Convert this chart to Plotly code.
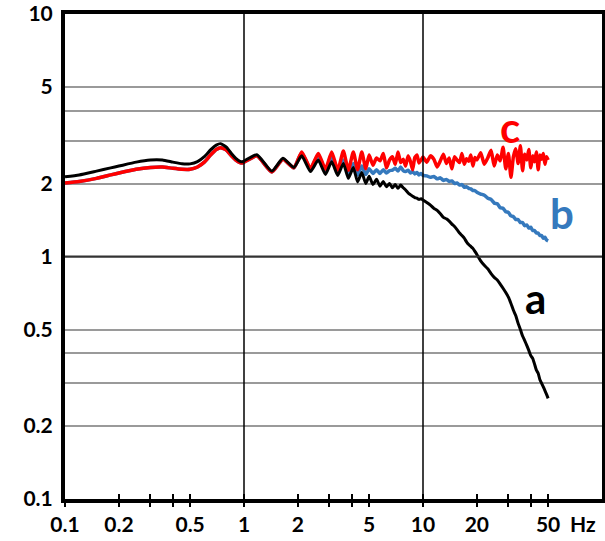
import plotly.graph_objects as go

# ---- data ----
freq = [0.1, 0.12, 0.15, 0.18, 0.2, 0.25, 0.3, 0.35, 0.4, 0.45, 0.5, 0.55, 0.6, 0.65, 0.7, 0.74, 0.8, 0.85, 0.9, 0.95, 0.98,
        1.18, 1.43, 1.65, 1.90, 2.10, 2.35, 2.60, 2.85, 3.09, 3.34, 3.59, 3.83, 4.08, 4.31, 4.55, 4.79,
        5.0, 5.25, 5.5, 5.75, 6.0, 6.25, 6.5, 6.75, 7.0, 7.25, 7.5, 7.75, 8.0, 8.25, 8.5, 8.75, 9.0, 9.25, 9.5, 9.75, 10.0,
        10.5, 11.0, 11.5, 12.0, 12.5, 13.0, 13.5, 14.0, 14.5, 15.0, 15.5, 16.0, 16.5, 17.0, 17.5, 18.0, 18.5, 19.0, 19.5, 20.0,
        21, 22, 23, 24, 25, 26, 27, 28, 29, 30, 31, 32, 33, 34, 35, 36, 37, 38, 39, 40,
        41, 42, 43, 44, 45, 46, 47, 48, 49, 50]

series_a = [2.13, 2.17, 2.25, 2.32, 2.36, 2.45, 2.50, 2.50, 2.45, 2.41, 2.41, 2.46, 2.58, 2.75, 2.88, 2.92, 2.82, 2.66, 2.54, 2.47, 2.46,
            2.63, 2.25, 2.54, 2.33, 2.60, 2.24, 2.50, 2.18, 2.46, 2.16, 2.42, 2.10, 2.33, 2.03, 2.22, 2.00,
            2.14, 1.98, 2.08, 1.95, 2.04, 1.94, 2.00, 1.92, 1.98, 1.91, 1.97, 1.92, 1.88, 1.83, 1.80, 1.77, 1.75, 1.74, 1.72, 1.73, 1.71,
            1.67, 1.63, 1.58, 1.55, 1.50, 1.45, 1.43, 1.40, 1.36, 1.33, 1.29, 1.25, 1.22, 1.19, 1.15, 1.12, 1.10, 1.08, 1.05, 1.02,
            0.96, 0.92, 0.89, 0.85, 0.82, 0.80, 0.77, 0.74, 0.71, 0.68, 0.64, 0.60, 0.57, 0.53, 0.50, 0.47, 0.45, 0.43, 0.41, 0.39,
            0.38, 0.36, 0.34, 0.33, 0.31, 0.30, 0.29, 0.28, 0.27, 0.26]

series_b = [2.01, 2.04, 2.10, 2.17, 2.21, 2.29, 2.33, 2.34, 2.31, 2.29, 2.29, 2.34, 2.45, 2.62, 2.76, 2.81, 2.74, 2.60, 2.50, 2.44, 2.43,
            2.60, 2.23, 2.52, 2.32, 2.68, 2.30, 2.62, 2.26, 2.58, 2.22, 2.50, 2.19, 2.42, 2.17, 2.36, 2.18,
            2.30, 2.20, 2.28, 2.20, 2.28, 2.21, 2.26, 2.27, 2.31, 2.25, 2.34, 2.26, 2.24, 2.27, 2.21, 2.24, 2.19, 2.22, 2.17, 2.20, 2.16,
            2.15, 2.12, 2.14, 2.09, 2.11, 2.06, 2.08, 2.04, 2.05, 2.00, 2.01, 1.97, 1.98, 1.93, 1.94, 1.91, 1.90, 1.87, 1.87, 1.84,
            1.81, 1.79, 1.74, 1.72, 1.66, 1.65, 1.59, 1.58, 1.53, 1.52, 1.47, 1.46, 1.42, 1.42, 1.38, 1.38, 1.34, 1.35, 1.31, 1.32,
            1.28, 1.28, 1.25, 1.25, 1.22, 1.22, 1.19, 1.20, 1.17, 1.16]

series_c = [2.01, 2.04, 2.10, 2.17, 2.21, 2.29, 2.33, 2.34, 2.31, 2.29, 2.29, 2.34, 2.45, 2.62, 2.76, 2.81, 2.74, 2.60, 2.50, 2.44, 2.43,
            2.60, 2.23, 2.52, 2.32, 2.70, 2.31, 2.66, 2.29, 2.70, 2.27, 2.72, 2.27, 2.70, 2.28, 2.70, 2.30,
            2.62, 2.38, 2.55, 2.48, 2.66, 2.32, 2.50, 2.58, 2.40, 2.70, 2.44, 2.52, 2.36, 2.60, 2.47, 2.28, 2.56, 2.62, 2.43, 2.50, 2.57,
            2.45, 2.60, 2.52, 2.34, 2.48, 2.64, 2.42, 2.55, 2.30, 2.58, 2.50, 2.44, 2.66, 2.40, 2.53, 2.47, 2.62, 2.36, 2.56, 2.50,
            2.68, 2.40, 2.55, 2.74, 2.36, 2.62, 2.48, 2.82, 2.30, 2.66, 2.12, 2.58, 2.78, 2.42, 2.86, 2.26, 2.64, 2.50, 2.76, 2.32,
            2.60, 2.46, 2.70, 2.28, 2.62, 2.52, 2.66, 2.40, 2.58, 2.50]

x_tick_vals = [0.1, 0.2, 0.3, 0.4, 0.5, 1, 2, 3, 4, 5, 10, 20, 30, 40, 50]
x_tick_text = ["0.1", "0.2", "", "", "0.5", "1", "2", "", "", "5", "10", "20", "", "", "50"]
y_tick_vals = [0.1, 0.2, 0.3, 0.4, 0.5, 1, 2, 3, 4, 5, 10]
y_tick_text = ["0.1", "0.2", "", "", "0.5", "1", "2", "", "", "5", "10"]

BLUE = "#3579bd"
RED = "#ff0000"
FONT = "Lato"

fig = go.Figure()
fig.add_trace(go.Scatter(x=freq, y=series_b, mode="lines", line=dict(color=BLUE, width=3.5, shape="spline", smoothing=0.5), hoverinfo="skip"))
fig.add_trace(go.Scatter(x=freq, y=series_c, mode="lines", line=dict(color=RED, width=3.5, shape="spline", smoothing=0.5), hoverinfo="skip"))
fig.add_trace(go.Scatter(x=freq, y=series_a, mode="lines", line=dict(color="black", width=3, shape="spline", smoothing=0.5), hoverinfo="skip"))
# helper (empty) trace for the inner tick marks axis
fig.add_trace(go.Scatter(x=[None], y=[None], xaxis="x2", mode="lines", hoverinfo="skip"))

tickfont = dict(family=FONT, size=21, color="black", weight="bold")

fig.update_layout(
    width=605, height=541,
    margin=dict(l=65, r=3, t=14, b=42),
    paper_bgcolor="white", plot_bgcolor="white",
    showlegend=False,
    xaxis=dict(type="log", range=[-1, 2], tickvals=x_tick_vals, ticktext=x_tick_text,
               ticks="outside", ticklen=4, tickwidth=1.5, tickcolor="black",
               showgrid=False, zeroline=False, showline=True, linewidth=4, linecolor="black", mirror=True,
               tickfont=tickfont, ticklabelstandoff=0, automargin=False),
    xaxis2=dict(type="log", range=[-1, 2], overlaying="x", anchor="y", side="bottom",
                tickvals=x_tick_vals, ticks="inside", ticklen=5, tickwidth=1.5, tickcolor="black",
                showticklabels=False, showgrid=False, zeroline=False, showline=False, automargin=False),
    yaxis=dict(type="log", range=[-1, 1], tickvals=y_tick_vals, ticktext=y_tick_text,
               ticks="", showgrid=True, gridcolor="#9a9a9a", gridwidth=2,
               zeroline=False, showline=True, linewidth=4, linecolor="black", mirror=True,
               tickfont=tickfont, ticklabelstandoff=4, automargin=False),
)

fig.add_vline(x=1, line=dict(color="black", width=1.5))
fig.add_vline(x=10, line=dict(color="black", width=1.5))
fig.add_hline(y=1, line=dict(color="#333333", width=2))

fig.add_annotation(text="Hz", xref="paper", yref="paper", x=0.965, xanchor="center", y=0, yanchor="top", yshift=-10,
                   showarrow=False, font=tickfont)
fig.add_annotation(text="c", xref="paper", yref="paper", x=0.829, y=0.767, xanchor="center", yanchor="middle", showarrow=False,
                   font=dict(family=FONT, size=42, color=RED, weight="bold"))
fig.add_annotation(text="b", xref="paper", yref="paper", x=0.925, y=0.59, xanchor="center", yanchor="middle", showarrow=False,
                   font=dict(family=FONT, size=42, color=BLUE, weight="bold"))
fig.add_annotation(text="a", xref="paper", yref="paper", x=0.877, y=0.414, xanchor="center", yanchor="middle", showarrow=False,
                   font=dict(family=FONT, size=42, color="black", weight="bold"))

fig.write_html("out.html", config={"displayModeBar": False},
               post_script="document.body.style.margin='0';")
